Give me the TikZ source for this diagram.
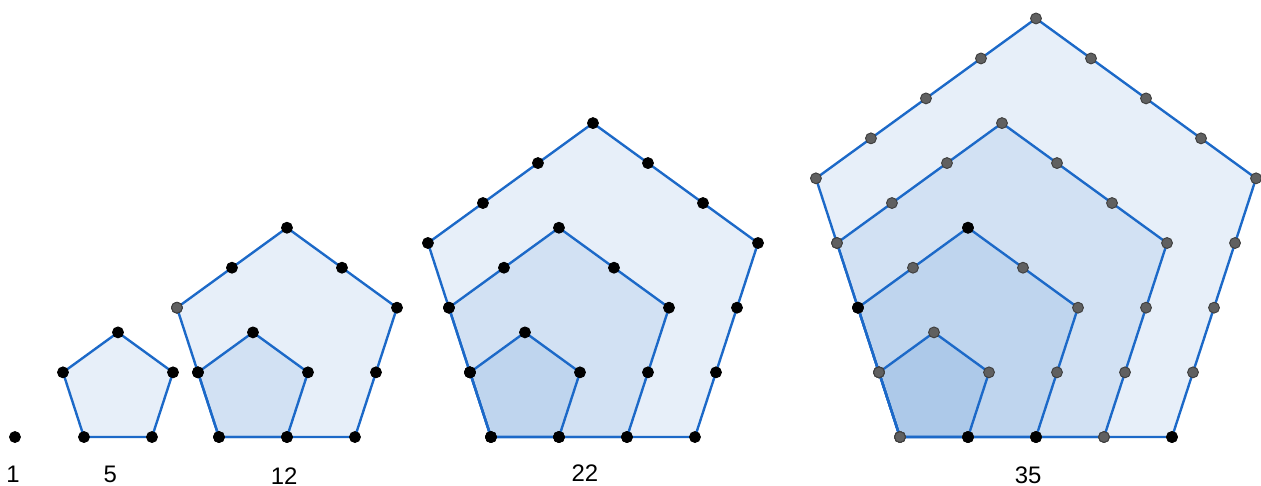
\documentclass[tikz,border=0pt]{standalone}
\usepackage{fontspec}
\setmainfont{Liberation Sans}
\usetikzlibrary{calc}
\definecolor{edgeblue}{RGB}{28,105,200}
\definecolor{fillblue}{RGB}{21,101,192}
\definecolor{dotgray}{RGB}{96,96,96}

% #1 name, #2 x of lower left corner, #3 number of layers, #4 dot style
\newcommand{\pentfig}[4]{%
  \foreach \j in {1,...,#3}
    \path (#2,0.72) coordinate (#1-\j-0) -- ++(0:\j) coordinate (#1-\j-1) -- ++(72:\j) coordinate (#1-\j-2)
      -- ++(144:\j) coordinate (#1-\j-3) -- ++(216:\j) coordinate (#1-\j-4);
  \foreach \j in {1,...,#3}
    \fill[layer] (#1-\j-0) -- (#1-\j-1) -- (#1-\j-2) -- (#1-\j-3) -- (#1-\j-4) -- cycle;
  \foreach \j in {1,...,#3}
    \draw[rim] (#1-\j-0) -- (#1-\j-1) -- (#1-\j-2) -- (#1-\j-3) -- (#1-\j-4) -- cycle;
  \foreach \j [evaluate=\j as \k using int(\j-1)] in {1,...,#3}
    \foreach \e/\f in {0/1,1/2,2/3,3/4,4/0}
      \foreach \i in {0,...,\k}
        \fill[#4] ($(#1-\j-\e)!\i cm!(#1-\j-\f)$) circle (0.08);
}

\begin{document}
\begin{tikzpicture}[line join=round, line cap=round,
    layer/.style={fill=fillblue, fill opacity=0.1},
    rim/.style={draw=edgeblue, line width=1pt},
    bdot/.style={fill=black, draw=black, line width=0.4pt},
    gdot/.style={fill=dotgray, draw=black!75, line width=0.4pt},
    num/.style={font=\fontsize{10}{12}\selectfont}]
  \useasboundingbox (0,0) rectangle (18.544,7.147);

  % the five figures
  \fill[bdot] (0.22,0.72) coordinate (f1) circle (0.08);
  \pentfig{f5}{1.235}{1}{bdot}
  \pentfig{f12}{3.22}{2}{bdot}
  \pentfig{f22}{7.22}{3}{bdot}
  \pentfig{f35}{13.235}{4}{gdot}

  % odd dots
  \fill[gdot] (f12-2-4) circle (0.08);
  \foreach \p in {f35-1-1, f35-2-1, f35-4-1, f35-2-4, f35-2-3}
    \fill[bdot] (\p) circle (0.08);

  % numbers
  \node[num] (n1) at (0.19,0.17) {1};
  \node[num] (n5) at (1.62,0.17) {5};
  \node[num] (n12) at (4.18,0.15) {12};
  \node[num] (n22) at (8.60,0.19) {22};
  \node[num] (n35) at (15.12,0.16) {35};
\end{tikzpicture}
\end{document}
